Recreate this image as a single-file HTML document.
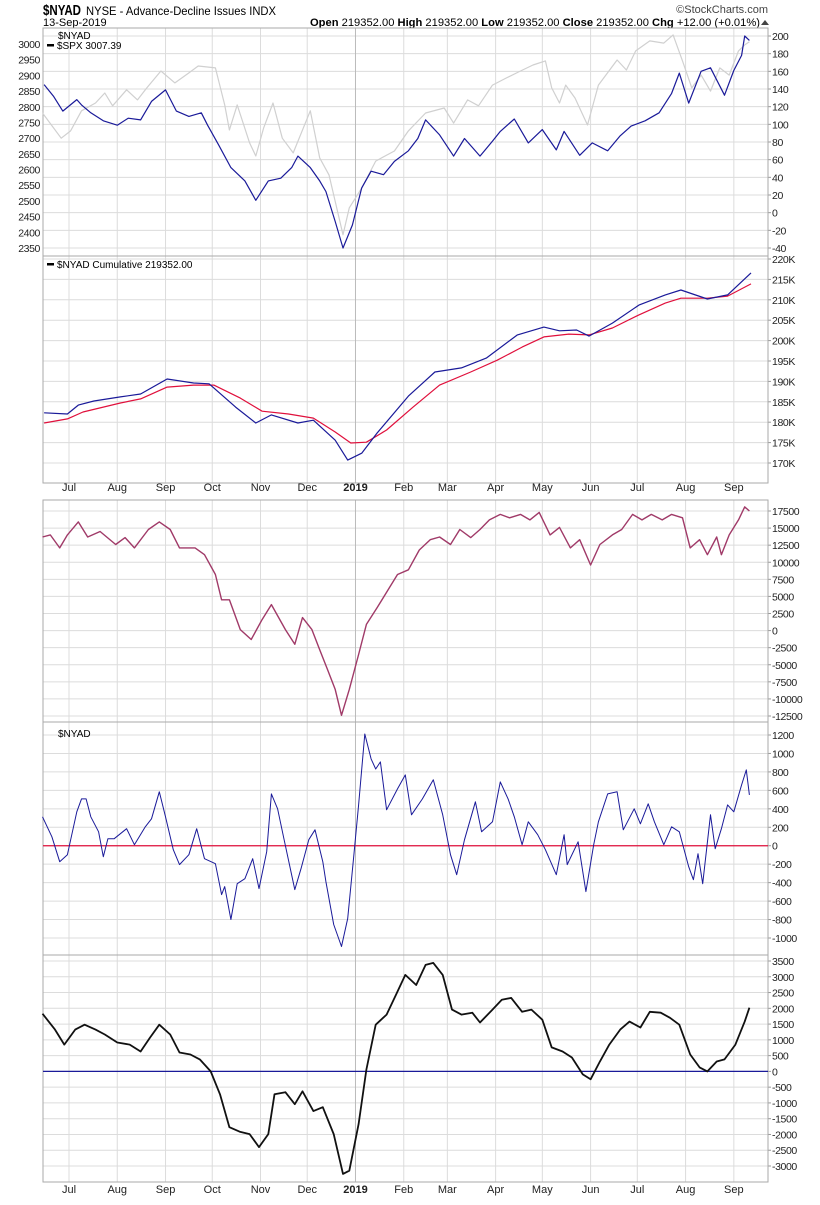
<!DOCTYPE html>
<html><head><meta charset="utf-8"><style>
html,body{margin:0;padding:0;background:#fff;}
body{width:820px;height:1200px;overflow:hidden;font-family:"Liberation Sans",sans-serif;}
svg text{font-family:"Liberation Sans",sans-serif;}
</style></head><body>
<svg id="chart" width="820" height="1200" xmlns="http://www.w3.org/2000/svg">
<text x="43" y="15" font-size="15" font-weight="bold" fill="#000" textLength="38" lengthAdjust="spacingAndGlyphs">$NYAD</text>
<text x="86" y="15" font-size="12" fill="#000" textLength="190" lengthAdjust="spacingAndGlyphs">NYSE - Advance-Decline Issues  INDX</text>
<text x="43" y="26" font-size="11" fill="#000">13-Sep-2019</text>
<text x="760" y="26" font-size="11" fill="#000" text-anchor="end" textLength="450" lengthAdjust="spacingAndGlyphs"><tspan font-weight="bold">Open</tspan> 219352.00  <tspan font-weight="bold">High</tspan> 219352.00  <tspan font-weight="bold">Low</tspan> 219352.00  <tspan font-weight="bold">Close</tspan> 219352.00  <tspan font-weight="bold">Chg</tspan> +12.00 (+0.01%)</text>
<polygon points="761,25 769,25 765,20" fill="#444"/>
<text x="768" y="13" font-size="11" fill="#444" text-anchor="end">©StockCharts.com</text>
<g id="layer"></g>
</svg>
<script>
// ---------- DATA ----------
const monthLabels = ["Jul","Aug","Sep","Oct","Nov","Dec","2019","Feb","Mar","Apr","May","Jun","Jul","Aug","Sep"];
const monthDays = [0,31,62,92,123,153,184,215,243,274,304,335,365,396,427];

const nyadDays = [-16,-10,-4,5,8,14,22,31,38,46,53,62,69,77,85,89,96,104,113,120,128,136,143,147,155,161,165,171,176,182,188,194,202,209,218,224,229,238,247,254,264,272,277,286,295,304,313,318,328,336,346,354,361,370,379,387,392,398,406,412,421,427,432,434,437];
const nyadVals = [145,132,115,128,122,113,104,99,107,105,126,139,115,109,113,99,77,51,36,14,36,39,51,64,51,36,24,-10,-40,-14,28,47,43,58,70,84,105,88,64,84,64,81,92,106,79,94,71,92,65,79,70,87,98,104,113,135,158,124,160,164,133,161,178,200,195];

const spxDays = [-17,-5,1,8,17,23,28,37,44,50,59,68,77,83,94,100,103,108,116,120,125,131,137,144,155,161,167,176,180,188,197,209,218,229,241,247,256,263,272,281,290,298,306,310,315,319,325,333,340,352,358,364,373,382,388,394,400,406,412,418,424,430,434,437];
const spxVals = [2780,2700,2723,2787,2812,2844,2803,2854,2822,2860,2914,2876,2908,2930,2924,2806,2726,2806,2685,2643,2732,2812,2700,2653,2787,2637,2583,2392,2478,2541,2627,2659,2723,2780,2796,2748,2822,2803,2869,2892,2914,2933,2946,2860,2812,2869,2828,2742,2869,2949,2917,2978,3010,3003,3029,2946,2860,2901,2850,2924,2901,2978,2997,3007];

const cumDays = [-16,-1,6,16,33,46,63,80,90,107,120,130,147,157,171,179,188,198,218,235,252,268,288,305,315,326,334,349,366,383,393,410,423,438];
const cumVals = [182.3,182.0,184.2,185.2,186.2,186.9,190.6,189.6,189.4,183.7,179.8,181.8,179.8,180.5,175.6,170.7,172.4,177.4,186.4,192.3,193.3,195.7,201.4,203.3,202.4,202.6,201.1,204.3,208.7,211.2,212.4,210.2,211.2,216.6];
const maDays = [-16,-1,9,33,46,63,80,93,110,124,141,157,171,181,191,204,221,238,258,275,291,305,321,334,349,366,383,393,410,423,438];
const maVals = [179.8,180.8,182.5,184.7,185.7,188.6,189.1,189.1,185.9,182.7,182.0,181.0,177.6,174.9,175.1,178.1,183.7,189.1,192.3,195.2,198.4,200.9,201.6,201.4,203.1,206.3,209.2,210.4,210.4,210.9,213.9];

const oscDays = [-17,-12,-6,-1,6,12,20,30,36,42,51,58,65,71,81,87,94,98,103,110,117,124,130,139,145,150,156,161,166,171,175,180,186,191,198,205,211,218,225,232,238,245,251,258,264,270,277,283,290,296,302,309,315,322,328,335,341,349,355,362,368,374,381,387,394,399,405,410,416,419,424,430,434,437];
const oscVals = [13700,14000,12100,14000,15900,13700,14500,12600,13600,12100,14800,15900,14800,12100,12100,11100,8200,4500,4500,150,-1300,1600,3800,150,-2000,1900,150,-2800,-5700,-8600,-12400,-8600,-3500,900,3400,6000,8200,8900,11800,13300,13700,12600,14800,13600,14800,16200,17000,16500,17000,16200,17300,14000,15100,12100,13300,9600,12600,14000,14800,17000,16200,17000,16200,17000,16500,12100,13300,11100,13700,11100,14000,16200,18100,17500];

const dailyDays = [-17,-11,-6,-1,5,8,11,14,19,22,25,29,37,42,49,53,58,62,67,71,77,82,87,94,98,100,104,108,113,118,122,127,130,134,138,145,149,154,158,163,165,170,175,179,183,186,190,194,197,200,204,211,216,220,227,234,240,245,249,254,261,265,272,277,282,286,291,295,301,306,313,318,320,327,332,337,340,346,352,356,363,367,372,376,382,387,392,398,401,404,407,412,415,419,423,427,432,435,437];
const dailyVals = [314,97,-173,-97,368,508,508,314,151,-119,76,76,184,11,205,292,584,314,-43,-205,-97,184,-141,-195,-530,-443,-800,-411,-357,-141,-465,-65,562,400,76,-476,-249,65,173,-173,-389,-854,-1092,-789,-97,443,1211,941,832,908,389,616,768,335,508,714,335,-97,-314,65,476,151,259,692,508,314,11,259,119,-43,-314,119,-205,43,-497,11,259,562,584,173,400,238,454,259,11,205,151,-227,-368,-86,-411,335,-32,184,443,368,659,822,551];

const sumDays = [-17,-9,-3,4,10,17,23,31,39,46,52,58,65,71,78,84,91,97,103,110,116,122,128,132,139,145,150,157,163,170,176,180,186,191,197,204,210,216,223,229,234,240,246,252,259,264,272,278,284,291,297,304,310,317,323,330,335,341,347,354,360,367,373,380,386,392,399,405,410,416,421,428,434,437];
const sumVals = [1830,1325,850,1325,1480,1325,1170,915,850,630,1070,1480,1170,600,536,380,0,-725,-1770,-1920,-1990,-2400,-1990,-725,-660,-1040,-630,-1260,-1135,-1990,-3250,-3150,-1670,60,1480,1800,2430,3060,2740,3375,3440,3060,1960,1800,1860,1550,1960,2270,2330,1890,1960,1640,760,630,440,-95,-250,315,850,1325,1580,1390,1890,1860,1700,1480,536,126,0,315,380,850,1580,2020];

const p1RightTicks = [200,180,160,140,120,100,80,60,40,20,0,-20,-40];
const p1LeftTicks = [3000,2950,2900,2850,2800,2750,2700,2650,2600,2550,2500,2450,2400,2350];
const p2Ticks = [220,215,210,205,200,195,190,185,180,175,170];
const p3Ticks = [17500,15000,12500,10000,7500,5000,2500,0,-2500,-5000,-7500,-10000,-12500];
const p4Ticks = [1200,1000,800,600,400,200,0,-200,-400,-600,-800,-1000];
const p5Ticks = [3500,3000,2500,2000,1500,1000,500,0,-500,-1000,-1500,-2000,-2500,-3000];

// ---------- RENDER ----------
const NS = "http://www.w3.org/2000/svg";
const layer = document.getElementById('layer');
const L = 43, R = 768;
const xOf = d => 69 + d * 1.557;
function mk(tag, attrs, parent) {
  const e = document.createElementNS(NS, tag);
  for (const k in attrs) e.setAttribute(k, attrs[k]);
  (parent || layer).appendChild(e);
  return e;
}
function lin(v0, y0, v1, y1) { return v => y0 + (v - v0) * (y1 - y0) / (v1 - v0); }

const panels = [
  {name:'nyad-spx-panel', top:28, bot:256, ticks:p1RightTicks, y:lin(200,36,-40,248), fmt:v=>String(v)},
  {name:'cumulative-panel', top:256, bot:483, ticks:p2Ticks, y:lin(220,259,170,463), fmt:v=>v+'K'},
  {name:'oscillator-panel', top:500, bot:722, ticks:p3Ticks, y:lin(17500,511,-12500,716), fmt:v=>String(v)},
  {name:'daily-nyad-panel', top:722, bot:955, ticks:p4Ticks, y:lin(1200,735,-1000,938), fmt:v=>String(v)},
  {name:'summed-panel', top:955, bot:1182, ticks:p5Ticks, y:lin(3500,961,-3000,1166), fmt:v=>String(v)}
];

panels.forEach((p, pi) => {
  const g = mk('g', {});
  
  
  p.ticks.forEach(t => {
    const yy = p.y(t);
    const gl = mk('line', {x1:L, x2:R, y1:yy, y2:yy, stroke:'#dcdcdc', 'stroke-width':1}, g);
    
    
    const tk = mk('line', {x1:R, x2:R+3, y1:yy, y2:yy, stroke:'#999'}, g);
    
    
    const tx = mk('text', {x:R+4, y:yy+4, 'font-size':10.5, 'letter-spacing':-0.4, fill:'#222'}, g);
    
    
    tx.textContent = p.fmt(t);
  });
  monthDays.forEach((d, i) => {
    const xx = xOf(d);
    const vl = mk('line', {x1:xx, x2:xx, y1:p.top, y2:p.bot, stroke: monthLabels[i]==='2019' ? '#bbb' : '#dcdcdc', 'stroke-width':1}, g);
    
    
  });
  const bx = mk('rect', {x:L, y:p.top, width:R-L, height:p.bot-p.top, fill:'none', stroke:'#aaa', 'stroke-width':1}, g);
  
  
});

// P1 left axis
const ySpx = lin(3000,44,2350,248);
p1LeftTicks.forEach(t => {
  const tx = mk('text', {x:L-3, y:ySpx(t)+4, 'font-size':10.5, 'letter-spacing':-0.4, fill:'#222', 'text-anchor':'end'});
  
  
  tx.textContent = t;
});

function series(days, vals, yf, color, w, name) {
  const pts = days.map((d, i) => xOf(d).toFixed(1) + ',' + yf(vals[i]).toFixed(1)).join(' ');
  const pl = mk('polyline', {points:pts, fill:'none', stroke:color, 'stroke-width':w, 'stroke-linejoin':'round'});
  
  
}
function zeroLine(yy, color, name) {
  const z = mk('line', {x1:L, x2:R, y1:yy, y2:yy, stroke:color, 'stroke-width':1.2});
  
  
}

series(spxDays, spxVals, ySpx, '#d0d0d0', 1.2, 'spx-line');
series(nyadDays, nyadVals, panels[0].y, '#1a1a99', 1.2, 'nyad-line');
series(maDays, maVals, panels[1].y, '#e0103c', 1.2, 'cumulative-ma-line');
series(cumDays, cumVals, panels[1].y, '#1a1a99', 1.2, 'cumulative-line');
series(oscDays, oscVals, panels[2].y, '#a03a68', 1.4, 'oscillator-line');
zeroLine(panels[3].y(0), '#e0103c', 'daily-zero-line');
series(dailyDays, dailyVals, panels[3].y, '#1a1a99', 1, 'daily-nyad-line');
zeroLine(panels[4].y(0), '#1a1a99', 'summed-zero-line');
series(sumDays, sumVals, panels[4].y, '#111', 1.8, 'summed-line');

// x axis labels
[491, 1193].forEach((yy, ai) => {
  monthDays.forEach((d, i) => {
    const tx = mk('text', {x:xOf(d), y:yy, 'font-size':11, fill:'#222', 'text-anchor':'middle', 'font-weight': monthLabels[i]==='2019' ? 'bold' : 'normal'});
    
    
    tx.textContent = monthLabels[i];
  });
});

// legends
function legend(x, y, txt, mark, name) {
  if (mark) {
    const m = mk('rect', {x:x, y:y-5, width:7, height:2.5, fill:'#000'});
    
    
  }
  const t = mk('text', {x:x + (mark ? 10 : 0), y:y, 'font-size':10, fill:'#000'});
  
  
  t.textContent = txt;
}
legend(58, 39, '$NYAD', false, 'legend-nyad');
legend(47, 49, '$SPX 3007.39', true, 'legend-spx');
legend(47, 268, '$NYAD Cumulative 219352.00', true, 'legend-cumulative');
legend(58, 737, '$NYAD', false, 'legend-daily-nyad');
</script>
</body></html>
